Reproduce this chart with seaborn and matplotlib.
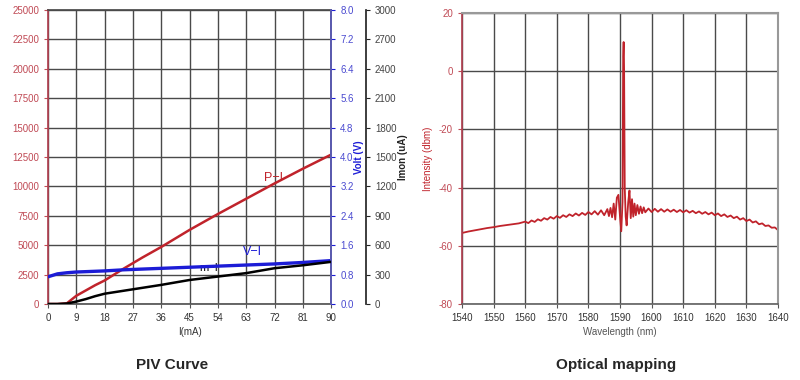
import numpy as np
import pandas as pd
import seaborn as sns
import matplotlib.pyplot as plt
from matplotlib.ticker import FormatStrFormatter

sns.set_theme(style='ticks')
plt.rcParams['font.family'] = ['Liberation Sans', 'DejaVu Sans']
plt.rcParams['axes.unicode_minus'] = False

# PIV data
current_ma = [0, 3, 6, 9, 12, 15, 18, 24, 30, 36, 45, 54, 63, 72, 81, 90]
power_i = [0, 0, 60, 700, 1150, 1600, 2000, 3000, 3950, 4850, 6300, 7650, 8950, 10250, 11500, 12700]
volt_v = [0.74, 0.82, 0.85, 0.87, 0.88, 0.89, 0.90, 0.93, 0.95, 0.97, 1.00, 1.03, 1.06, 1.09, 1.13, 1.18]
imon_ua = [0, 0, 5, 25, 50, 80, 105, 135, 165, 195, 245, 280, 315, 365, 395, 430]

# optical spectrum
wavelength_nm = [1540, 1542, 1544, 1546, 1548, 1550, 1552, 1554, 1556, 1558,
                 1560, 1561, 1562, 1563, 1564, 1565, 1566, 1567, 1568, 1569,
                 1570, 1571, 1572, 1573, 1574, 1575, 1576, 1577, 1578, 1579,
                 1580, 1581, 1582, 1583, 1584, 1585, 1586, 1586.5, 1587, 1587.5,
                 1588, 1588.5, 1589, 1589.5, 1590, 1590.4, 1590.8, 1591.0, 1591.15, 1591.3,
                 1591.5, 1591.8, 1592.1, 1592.6, 1593.0, 1593.4, 1593.8, 1594.2, 1594.6, 1595.0,
                 1595.5, 1596, 1596.5, 1597, 1597.5, 1598, 1599, 1600, 1601, 1602,
                 1603, 1604, 1605, 1606, 1607, 1608, 1609, 1610, 1611, 1612,
                 1613, 1614, 1615, 1616, 1617, 1618, 1619, 1620, 1621, 1622,
                 1623, 1624, 1625, 1626, 1627, 1628, 1629, 1630, 1631, 1632,
                 1633, 1634, 1635, 1636, 1637, 1638, 1639, 1640]
intensity_dbm = [-55.6, -55.1, -54.7, -54.3, -53.9, -53.6, -53.2, -52.9, -52.6, -52.3,
                 -51.7, -52.2, -51.3, -51.8, -50.9, -51.4, -50.5, -51.0, -50.1, -50.7,
                 -49.8, -50.4, -49.5, -50.1, -49.2, -49.8, -48.9, -49.6, -48.7, -49.4,
                 -48.4, -49.2, -48.1, -49.3, -47.8, -49.5, -47.4, -49.8, -47.0, -50.2,
                 -45.5, -51.0, -43.5, -42.5, -50.0, -55.0, -45.0, 5.0, 10.0, 0.0,
                 -40.0, -50.0, -53.0, -45.0, -41.0, -50.5, -44.0, -50.0, -45.5, -49.5,
                 -46.0, -49.0, -46.5, -48.8, -46.8, -48.5, -47.2, -48.4, -47.3, -48.3,
                 -47.4, -48.3, -47.5, -48.3, -47.6, -48.4, -47.7, -48.5, -47.8, -48.6,
                 -48.0, -48.8, -48.2, -49.0, -48.4, -49.2, -48.6, -49.5, -48.9, -49.8,
                 -49.2, -50.1, -49.6, -50.5, -50.0, -51.0, -50.5, -51.5, -51.0, -52.0,
                 -51.6, -52.6, -52.3, -53.2, -53.0, -53.8, -53.7, -54.6]

piv = pd.DataFrame({'I': current_ma, 'P': power_i, 'V': volt_v, 'Imon': imon_ua})
spec = pd.DataFrame({'wl': wavelength_nm, 'dbm': intensity_dbm})

red = '#c0232b'
tick_red = '#c04a55'
blue = '#1c1cd6'
grid_c = '#4a4a4a'
fs = 7

fig = plt.figure(figsize=(8, 3.8), dpi=100)
ax = fig.add_axes([0.06, 0.2, 0.354, 0.774])
ax2 = ax.twinx()
ax3 = ax.twinx()

sns.lineplot(data=piv, x='I', y='P', ax=ax, color=red, linewidth=1.8)
sns.lineplot(data=piv, x='I', y='V', ax=ax2, color=blue, linewidth=2.4)
sns.lineplot(data=piv, x='I', y='Imon', ax=ax3, color='black', linewidth=1.8)

ax.set_xlim(0, 90)
ax.set_ylim(0, 25000)
ax.set_xticks(range(0, 91, 9))
ax.set_yticks(range(0, 25001, 2500))
ax.grid(True, color=grid_c, linewidth=1)
ax.set_axisbelow(True)
ax.tick_params(axis='y', colors=tick_red, labelsize=fs, length=3, width=0.8)
ax.tick_params(axis='x', colors='#555555', labelsize=fs, length=3, width=0.8)
for t in ax.get_xticklabels():
    t.set_color('#333333')
ax.set_xlabel('I(mA)', fontsize=fs, color='#333333', labelpad=3)
ax.set_ylabel('')
ax.spines['left'].set_color('#b04050')
ax.spines['bottom'].set_color('#555555')
ax.spines['top'].set_color(grid_c)

ax2.set_ylim(0, 8)
ax2.set_yticks(np.arange(0, 8.01, 0.8))
ax2.yaxis.set_major_formatter(FormatStrFormatter('%.1f'))
ax2.tick_params(axis='y', colors=blue, labelsize=fs, length=3, width=0.8)
for t in ax2.get_yticklabels():
    t.set_color('#4a4ad0')
ax2.set_ylabel('Volt (V)', fontsize=fs, color=blue, fontweight='bold', labelpad=0)
ax2.spines['right'].set_color('#6060c0')
for s in ['left', 'top', 'bottom']:
    ax2.spines[s].set_visible(False)

ax3.spines['right'].set_position(('outward', 25))
ax3.set_ylim(0, 3000)
ax3.set_yticks(range(0, 3001, 300))
ax3.tick_params(axis='y', colors='#222222', labelsize=fs, length=3, width=0.8)
for t in ax3.get_yticklabels():
    t.set_color('#444444')
ax3.set_ylabel('Imon (uA)', fontsize=fs, color='#222222', fontweight='bold', labelpad=1)
for s in ['left', 'top', 'bottom']:
    ax3.spines[s].set_visible(False)

ax.text(68.5, 10450, 'P\u2212I', color=red, fontsize=9)
ax.text(62, 4150, 'V\u2212I', color=blue, fontsize=9)
ax.text(48, 2800, 'm\u2212I', color='black', fontsize=8)

# optical mapping
bx = fig.add_axes([0.5775, 0.2, 0.395, 0.766])
sns.lineplot(data=spec, x='wl', y='dbm', ax=bx, color=red, linewidth=1.3)
bx.set_xlim(1540, 1640)
bx.set_ylim(-80, 20)
bx.set_xticks(range(1540, 1641, 10))
bx.set_yticks(range(-80, 21, 20))
bx.grid(True, color=grid_c, linewidth=1)
bx.set_axisbelow(True)
bx.tick_params(axis='y', colors=tick_red, labelsize=fs, length=3, width=0.8)
bx.tick_params(axis='x', colors='#555555', labelsize=fs, length=3, width=0.8)
for t in bx.get_xticklabels():
    t.set_color('#333333')
bx.set_xlabel('Wavelength (nm)', fontsize=fs, color='#555555', labelpad=3)
bx.set_ylabel('Intensity (dbm)', fontsize=fs, color=red, labelpad=4)
bx.spines['left'].set_color('#b04050')
bx.spines['bottom'].set_color('#666666')
for s in ['top', 'right']:
    bx.spines[s].set_color('#999999')
    bx.spines[s].set_linewidth(1.5)

fig.text(0.215, 0.03, 'PIV Curve', ha='center', fontsize=11, fontweight='bold')
fig.text(0.77, 0.03, 'Optical mapping', ha='center', fontsize=11, fontweight='bold')

fig.savefig('out.png', dpi=100)
